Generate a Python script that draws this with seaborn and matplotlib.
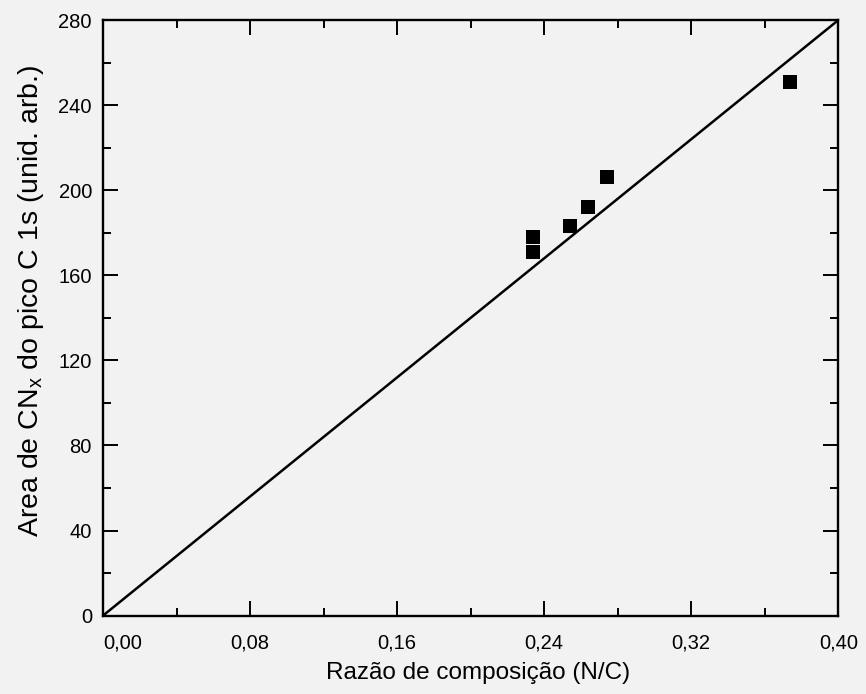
import matplotlib
matplotlib.use('Agg')
import matplotlib.pyplot as plt
from matplotlib.ticker import MultipleLocator
import seaborn as sns
import pandas as pd

# valores
razao_nc = [0.234, 0.234, 0.254, 0.264, 0.274, 0.374]
area_cnx = [178, 171, 183, 192, 206, 251]

# reta de referência
reta_x = [0.0, 0.40]
reta_y = [0.0, 280.0]

xticks = [0.00, 0.08, 0.16, 0.24, 0.32, 0.40]
xtick_labels = ['0,00', '0,08', '0,16', '0,24', '0,32', '0,40']
yticks = [0, 40, 80, 120, 160, 200, 240, 280]


def main():
    sns.set_theme(style='ticks')
    plt.rcParams['font.family'] = ['Liberation Sans', 'DejaVu Sans']
    plt.rcParams['xtick.labelsize'] = 14.5
    plt.rcParams['ytick.labelsize'] = 14.5
    plt.rcParams['text.color'] = 'black'
    plt.rcParams['axes.labelcolor'] = 'black'

    pontos = pd.DataFrame({'x': razao_nc, 'y': area_cnx})
    reta = pd.DataFrame({'x': reta_x, 'y': reta_y})

    fig = plt.figure(figsize=(8.66, 6.94), dpi=100, facecolor='#f2f2f2')
    ax = fig.add_axes([0.119, 0.113, 0.849, 0.858])
    ax.set_facecolor('#f2f2f2')

    sns.lineplot(data=reta, x='x', y='y', color='black', linewidth=1.8, ax=ax)
    sns.scatterplot(data=pontos, x='x', y='y', marker='s', s=100, color='black',
                    edgecolor='black', linewidth=0, ax=ax, zorder=3)

    ax.set_xlim(0, 0.40)
    ax.set_ylim(0, 280)
    ax.set_xticks(xticks)
    ax.set_xticklabels(xtick_labels, fontsize=14.5)
    ax.set_yticks(yticks)
    ax.set_yticklabels([str(v) for v in yticks], fontsize=14.5)
    ax.xaxis.set_minor_locator(MultipleLocator(0.04))
    ax.yaxis.set_minor_locator(MultipleLocator(20))
    ax.tick_params(which='both', direction='in', top=True, right=True,
                   width=1.4, colors='black')
    ax.tick_params(which='major', length=11)
    ax.tick_params(which='minor', length=6)
    ax.tick_params(axis='x', pad=13)
    ax.tick_params(axis='y', pad=8)
    ax.get_xticklabels()[0].set_horizontalalignment('left')
    for s in ax.spines.values():
        s.set_linewidth(1.7)
        s.set_color('black')

    ax.set_xlabel('Razão de composição (N/C)', fontsize=17.5, color='black')
    ax.set_ylabel('Area de CN$_\\mathregular{x}$ do pico C 1s (unid. arb.)',
                  fontsize=20.5, color='black')
    ax.xaxis.set_label_coords(0.51, -0.078)
    ax.yaxis.set_label_coords(-0.078, 0.528)

    fig.savefig('out.png', dpi=100, facecolor=fig.get_facecolor())
    plt.close(fig)


main()
